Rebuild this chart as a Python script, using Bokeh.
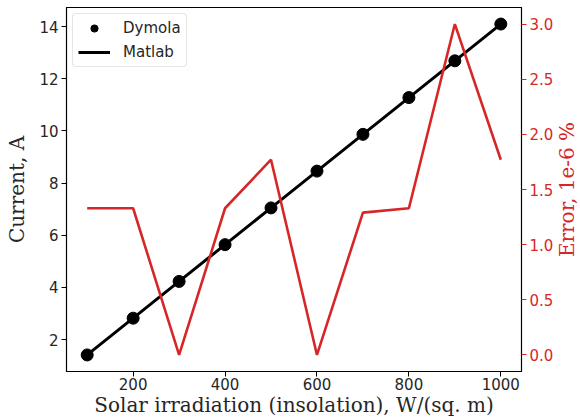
import math
from bokeh.plotting import figure
from bokeh.models import Range1d, LinearAxis, FixedTicker, NumeralTickFormatter, Legend, LegendItem, Label
from bokeh.embed import file_html
from bokeh.resources import INLINE

irradiation = [100, 200, 300, 400, 500, 600, 700, 800, 900, 1000]
current_dymola = [1.41, 2.82, 4.23, 5.64, 7.05, 8.46, 9.87, 11.28, 12.69, 14.10]
current_matlab = [1.41, 2.82, 4.23, 5.64, 7.05, 8.46, 9.87, 11.28, 12.69, 14.10]
error_pct = [1.33, 1.33, 0.0, 1.33, 1.77, 0.0, 1.29, 1.33, 3.0, 1.77]

x_ticks = [200, 400, 600, 800, 1000]
y_ticks = [2, 4, 6, 8, 10, 12, 14]
err_ticks = [0.0, 0.5, 1.0, 1.5, 2.0, 2.5, 3.0]

RED = "#d62728"
TXT = "#262626"

p = figure(width=580, height=419, output_backend="svg", toolbar_location=None,
           x_range=Range1d(55, 1045), y_range=Range1d(0.775, 14.735),
           min_border_left=66, min_border_right=58, min_border_top=7, min_border_bottom=46)
p.grid.visible = False
p.outline_line_color = "black"
p.outline_line_width = 1.2
p.background_fill_color = "white"

p.extra_y_ranges = {"err": Range1d(-0.15, 3.15)}

for ax in (p.xaxis[0], p.yaxis[0]):
    ax.major_label_text_font = "DejaVu Sans"
    ax.major_label_text_font_size = "15px"
    ax.major_label_text_color = TXT
    ax.axis_label_text_font = "DejaVu Serif"
    ax.axis_label_text_font_size = "20px"
    ax.axis_label_text_font_style = "normal"
    ax.axis_label_text_color = TXT
    ax.minor_tick_line_color = None
    ax.major_tick_out = 5
    ax.major_tick_in = 0
    ax.axis_line_color = "black"
    ax.major_tick_line_color = "black"
    ax.major_label_standoff = 3

p.xaxis[0].ticker = FixedTicker(ticks=x_ticks)
p.yaxis[0].ticker = FixedTicker(ticks=y_ticks)
p.xaxis[0].axis_label = "Solar irradiation (insolation), W/(sq. m)"
p.yaxis[0].axis_label = "Current, A"
p.xaxis[0].major_label_standoff = 1
p.xaxis[0].axis_label_standoff = 0
p.yaxis[0].axis_label_standoff = 7

rax = LinearAxis(y_range_name="err",
                 ticker=FixedTicker(ticks=err_ticks),
                 formatter=NumeralTickFormatter(format="0.0"))
rax.major_label_text_font = "DejaVu Sans"
rax.major_label_text_font_size = "15px"
rax.major_label_text_color = RED
rax.major_label_standoff = 3
rax.minor_tick_line_color = None
rax.major_tick_out = 5
rax.major_tick_in = 0
rax.major_tick_line_color = RED
rax.axis_line_color = "black"
p.add_layout(rax, "right")

line_m = p.line(irradiation, current_matlab, line_color="black", line_width=3)
pts_d = p.scatter(irradiation, current_dymola, size=12, fill_color="black", line_color="black")
p.line(irradiation, error_pct, line_color=RED, line_width=2.6, y_range_name="err")

err_label = Label(x=1143, y=1.5, y_range_name="err", text="Error, 1e-6 %",
                  angle=math.pi / 2, text_align="center", text_baseline="middle",
                  text_font="DejaVu Serif", text_font_size="20px", text_color=RED)
p.add_layout(err_label, "right")

legend = Legend(items=[LegendItem(label="Dymola", renderers=[pts_d]),
                       LegendItem(label="Matlab", renderers=[line_m])],
                location="top_left")
legend.label_text_font = "DejaVu Sans"
legend.label_text_font_size = "15px"
legend.label_text_color = TXT
legend.border_line_color = "#cccccc"
legend.border_line_width = 1
legend.border_radius = 4
legend.margin = 6
legend.padding = 5
legend.spacing = 6
legend.glyph_height = 18
legend.glyph_width = 32
legend.label_standoff = 13
p.add_layout(legend)

open("out.html", "w").write(file_html(p, INLINE))
